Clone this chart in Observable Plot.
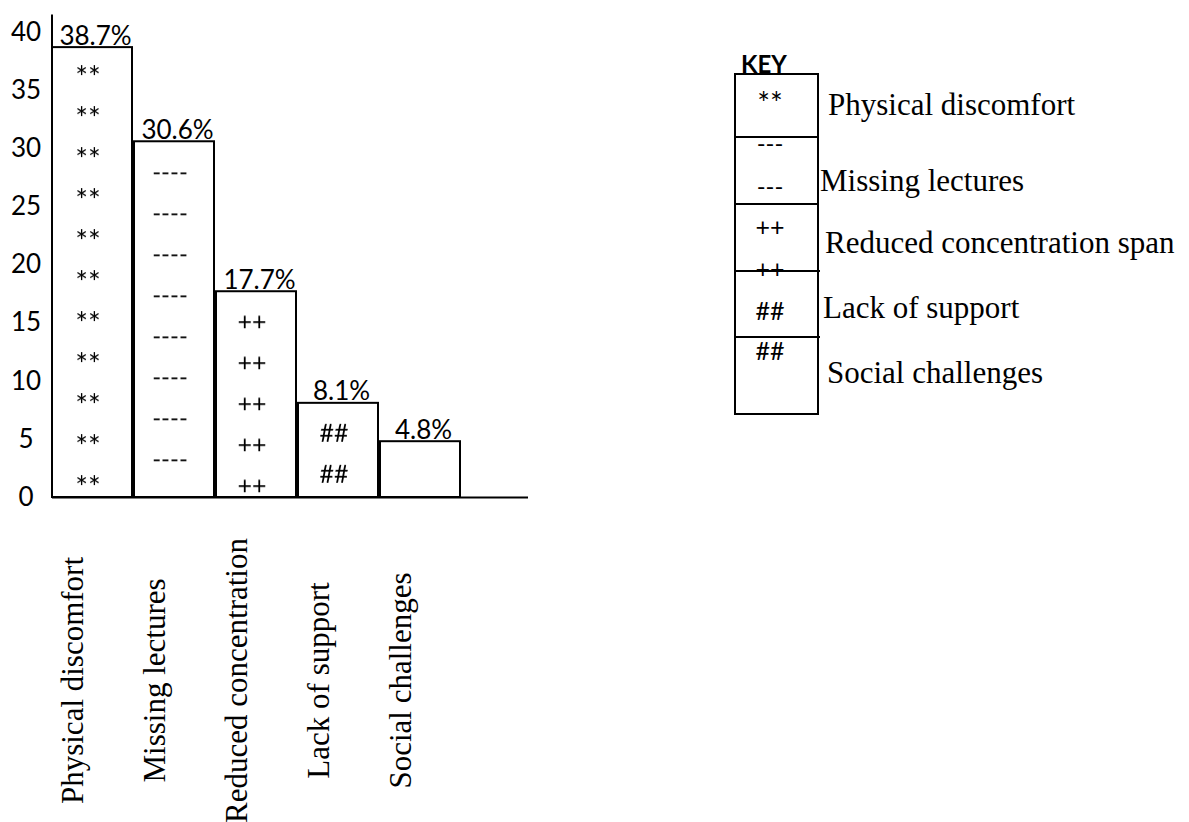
<!DOCTYPE html>
<html><head><meta charset="utf-8">
<script src="https://cdn.jsdelivr.net/npm/d3@7"></script>
<script src="https://cdn.jsdelivr.net/npm/@observablehq/plot@0.6"></script>
<style>body{margin:0;background:#fff;} #chart{width:1189px;height:822px;}</style>
</head><body><div id="chart"></div>
<script>
const categories = ["Physical discomfort","Missing lectures","Reduced concentration","Lack of support","Social challenges"];
const percentages = [38.7, 30.6, 17.7, 8.1, 4.8];
const yTicks = [0,5,10,15,20,25,30,35,40];
const keyLabels = ["Physical discomfort","Missing lectures","Reduced concentration span","Lack of support","Social challenges"];
const barSymbols = ["**","----","++","##",""];

const data = categories.map((c,i)=>({category:c, value: percentages[i]}));

const plot = Plot.plot({
  width: 1189, height: 822,
  marginLeft: 52, marginRight: 661, marginTop: 32, marginBottom: 325,
  style: {background:"white", fontFamily:"Lato", color:"black", overflow:"visible"},
  x: {domain: categories, paddingInner: 0.02, paddingOuter: 0.378, align: 0, axis: null},
  y: {domain: [0,40], label: null},
  marks: [
    Plot.axisY({ticks: yTicks, tickSize: 0, tickPadding: 26.5, textAnchor: "middle", fontSize: 26, fontFamily: "Lato", label: null}),
    Plot.barY(data, {x:"category", y:"value", fill:"white", stroke:"black", strokeWidth:2}),
    Plot.ruleY([0], {stroke:"black", strokeWidth:2}),
    Plot.text(data, {x:"category", y:"value", text: d=>d.value.toFixed(1)+"%", lineAnchor:"bottom", dy:-3, dx: 3, fontSize:26, fontFamily:"Lato", fill:"black"}),
    Plot.text(categories, {x: d=>d, text: d=>d, frameAnchor:"bottom", rotate:-90, textAnchor:"middle", dy: 183, dx: -10, fontSize:31, fontFamily:"Liberation Serif", fill:"black"})
  ]
});

const svg = d3.select(plot);
const ys = plot.scale("y");
const xs = plot.scale("x");
const x0 = xs.range[0];

// y axis line
svg.append("line")
  .attr("x1", x0).attr("x2", x0)
  .attr("y1", ys.apply(41.5)).attr("y2", ys.apply(0) + 1)
  .attr("stroke", "black").attr("stroke-width", 2);

// symbol fills inside bars
const symbolSize = {"**": 30, "----": 24, "++": 25, "##": 25};
const defs = svg.append("defs");
svg.selectAll('g[aria-label="bar"] rect').each(function(d, i) {
  const sym = barSymbols[i];
  if (!sym) return;
  const r = d3.select(this);
  const rx = +r.attr("x"), ry = +r.attr("y"), rw = +r.attr("width");
  const p = defs.append("pattern").attr("id", "pat" + i)
    .attr("patternUnits", "userSpaceOnUse")
    .attr("x", rx).attr("y", ry).attr("width", rw).attr("height", 41);
  p.append("rect").attr("width", rw).attr("height", 41).attr("fill", "white");
  p.append("text").attr("x", rw / 2 - 4).attr("y", sym === "**" ? 41 : 39)
    .attr("text-anchor", "middle").attr("font-family", "Lato").attr("font-size", symbolSize[sym])
    .attr("fill", "black").text(sym);
  r.attr("fill", `url(#pat${i})`);
});

// key
const key = svg.append("g").attr("text-anchor", "start");
key.append("text").attr("x", 741).attr("y", 73).text("KEY")
  .attr("font-family", "Lato").attr("font-weight", "bold").attr("font-size", 24).attr("fill", "black");
key.append("rect").attr("x", 735).attr("y", 74).attr("width", 83).attr("height", 340)
  .attr("fill", "white").attr("stroke", "black").attr("stroke-width", 2);
const dividers = [[137, 818], [204, 818], [271, 820], [337, 820]];
dividers.forEach(([yy, xe]) => key.append("line").attr("x1", 735).attr("x2", xe).attr("y1", yy).attr("y2", yy)
  .attr("stroke", "black").attr("stroke-width", 2));
const keySymbols = [["**", 114, 30], ["---", 152, 24], ["---", 195, 24], ["++", 236, 25], ["++", 278, 25], ["##", 320, 25], ["##", 360, 25]];
keySymbols.forEach(([s, yy, fs]) => key.append("text").attr("x", 770).attr("y", yy).attr("text-anchor", "middle")
  .attr("font-family", "Lato").attr("font-size", fs).attr("fill", "black").text(s));
const keyPos = [[828, 115], [820, 191], [825, 253], [823, 318], [827, 383]];
keyLabels.forEach((t, i) => key.append("text").attr("x", keyPos[i][0]).attr("y", keyPos[i][1])
  .attr("text-anchor", "start")
  .attr("font-family", "Liberation Serif").attr("font-size", 31).attr("fill", "black").text(t));

document.getElementById("chart").appendChild(plot);
</script>
</body></html>
